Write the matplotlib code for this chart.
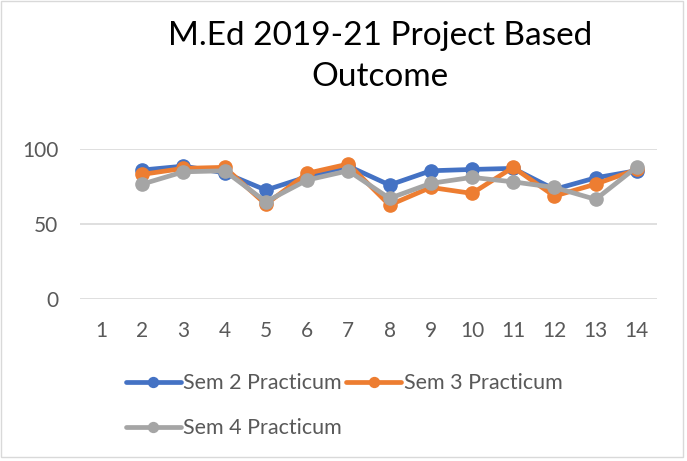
import numpy as np
import matplotlib
matplotlib.use("Agg")
import matplotlib.pyplot as plt
from matplotlib.patches import Rectangle

categories = list(range(1, 15))
sem2 = [np.nan, 85.9, 88.5, 84.0, 72.5, 81.4, 88.5, 75.9, 85.4, 86.3, 87.0, 73.0, 80.7, 85.5]
sem3 = [np.nan, 83.0, 87.0, 87.7, 63.0, 83.7, 89.9, 62.5, 74.3, 70.3, 87.7, 68.5, 76.5, 86.3]
sem4 = [np.nan, 76.5, 84.7, 85.4, 64.7, 79.2, 85.4, 67.0, 77.0, 81.0, 78.0, 74.3, 66.3, 88.0]
series = [("Sem 2 Practicum", sem2, "#4472C4"),
          ("Sem 3 Practicum", sem3, "#ED7D31"),
          ("Sem 4 Practicum", sem4, "#A5A5A5")]
title = "M.Ed 2019-21 Project Based\nOutcome"
yticks = [0, 50, 100]

plt.rcParams['font.family'] = ['Lato', 'DejaVu Sans']
txt = "#595959"

fig = plt.figure(figsize=(6.87, 4.61), dpi=100)
fig.patches.append(Rectangle((0.001, 0.008), 0.993, 0.99, transform=fig.transFigure,
                             fill=False, edgecolor="#d9d9d9", linewidth=1))
ax = fig.add_axes([0.117, 0.352, 0.840, 0.325])

lines = {}
for name, vals, col in series:
    ln, = ax.plot(categories, vals, color=col, lw=3.4, marker='o', markersize=9.5,
                  label=name, clip_on=False, solid_capstyle='round')
    lines[name] = ln

ax.set_xlim(0.5, 14.5)
ax.set_ylim(0, 100)
ax.set_yticks(yticks)
ax.set_xticks(categories)
ax.grid(axis='y', color="#d9d9d9", lw=1.2)
ax.set_axisbelow(True)
for s in ax.spines.values():
    s.set_visible(False)
ax.tick_params(length=0, labelsize=15, colors=txt)
ax.tick_params(axis='x', pad=16)
ax.tick_params(axis='y', pad=16)

fig.text(0.553, 0.955, title, ha='center', va='top', fontsize=24, color="#000000",
         linespacing=1.45)

order = ["Sem 2 Practicum", "Sem 4 Practicum", "Sem 3 Practicum"]
leg = fig.legend([lines[n] for n in order], order, loc='upper left',
                 bbox_to_anchor=(0.183, 0.19), ncol=2,
                 frameon=False, fontsize=15.5, handlelength=2.55, handletextpad=0.12,
                 columnspacing=0.2, labelspacing=1.15, borderaxespad=0, borderpad=0,
                 markerscale=0.75)
for t in leg.get_texts():
    t.set_color(txt)

fig.savefig("out.png", dpi=100)
